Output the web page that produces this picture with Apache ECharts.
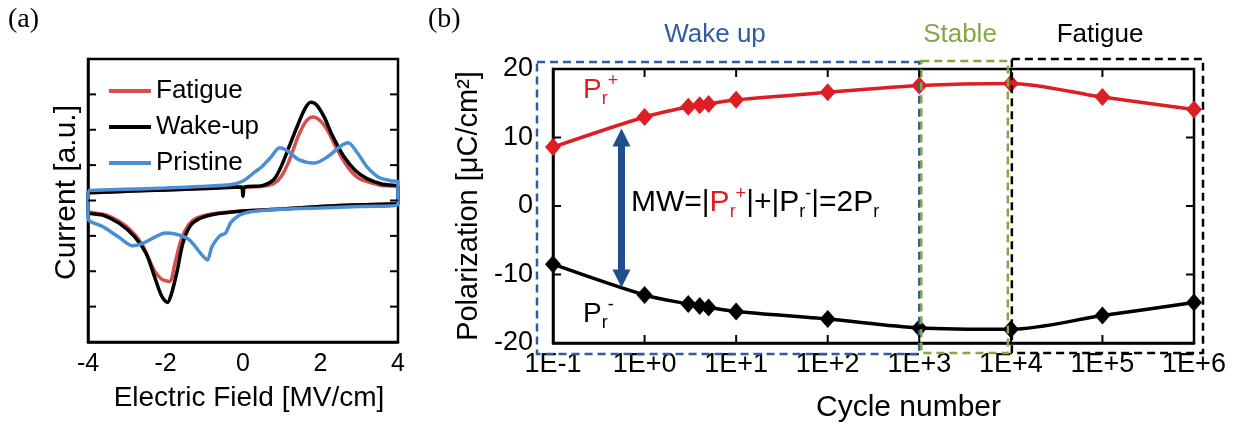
<!DOCTYPE html>
<html>
<head>
<meta charset="utf-8">
<script src="https://cdn.jsdelivr.net/npm/echarts@6.0.0/dist/echarts.min.js"></script>
<style>
    html, body { margin: 0; padding: 0; background: #fff; }
    #main { width: 1245px; height: 432px; }
</style>
</head>
<body>
<div id="main"></div>
<script>
// ---- panel (a): current loops, [field MV/cm, current a.u.] ----
const fatigueLoop = [
    [-4, 0.22], [-3, 0.26], [-2, 0.3], [-1, 0.34], [0, 0.38], [0.5, 0.4], [0.8, 0.48], [1.0, 0.7],
    [1.2, 1.15], [1.4, 1.75], [1.6, 2.2], [1.8, 2.36], [2.0, 2.25], [2.2, 1.95], [2.4, 1.5],
    [2.7, 0.95], [3.0, 0.62], [3.5, 0.44], [4, 0.35],
    [4, -0.07], [3, -0.12], [2, -0.17], [1, -0.24], [0, -0.3], [-0.8, -0.38], [-1.2, -0.5],
    [-1.4, -0.68], [-1.6, -1.12], [-1.75, -1.75], [-1.9, -2.29], [-2.1, -2.22], [-2.3, -1.96],
    [-2.6, -1.25], [-3.0, -0.74], [-3.5, -0.42], [-4, -0.27], [-4, 0.22]
];
const wakeUpLoop = [
    [-4, 0.22], [-3, 0.26], [-2, 0.3], [-1, 0.34], [-0.05, 0.38], [0, 0.12], [0.05, 0.38], [0.5, 0.42],
    [0.8, 0.6], [1.0, 1.0], [1.2, 1.55], [1.4, 2.1], [1.6, 2.6], [1.75, 2.78], [1.9, 2.7], [2.1, 2.35],
    [2.3, 1.85], [2.6, 1.25], [2.9, 0.85], [3.2, 0.62], [3.6, 0.46], [4, 0.38],
    [4, -0.07], [3, -0.12], [2, -0.17], [1, -0.24], [0, -0.3], [-0.8, -0.4], [-1.1, -0.5],
    [-1.35, -0.7], [-1.55, -1.2], [-1.7, -2.0], [-1.85, -2.65], [-1.95, -2.88], [-2.1, -2.7],
    [-2.3, -2.1], [-2.5, -1.5], [-2.8, -1.02], [-3.2, -0.64], [-3.6, -0.42], [-4, -0.32], [-4, 0.22]
];
const pristineLoop = [
    [-4, 0.28], [-3, 0.32], [-2, 0.35], [-1, 0.4], [-0.3, 0.45], [0, 0.55], [0.3, 0.8], [0.5, 0.97],
    [0.7, 1.2], [0.95, 1.49], [1.15, 1.4], [1.45, 1.15], [1.85, 1.06], [2.2, 1.25], [2.5, 1.52],
    [2.71, 1.63], [2.95, 1.35], [3.2, 0.95], [3.5, 0.66], [3.8, 0.56], [4, 0.52],
    [4, -0.13], [3, -0.17], [2, -0.21], [1, -0.25], [0.5, -0.28], [0, -0.37], [-0.3, -0.6],
    [-0.45, -0.92], [-0.6, -1.0], [-0.8, -1.3], [-0.92, -1.68], [-1.05, -1.55], [-1.4, -1.1],
    [-1.7, -0.96], [-2.0, -0.92], [-2.3, -1.05], [-2.6, -1.22], [-2.85, -1.28], [-3.2, -1.04],
    [-3.6, -0.75], [-4, -0.5], [-4, 0.28]
];
const fieldRange = [-4, 4];
const currentRange = [-4, 4];
const currentTicks = [-3, -2, -1, 0, 1, 2, 3];

// ---- panel (b): remanent polarization vs cycles ----
const cycles = [0.1, 1, 3, 4, 5, 10, 100, 1000, 10000, 100000, 1000000];
const prPlus = [8.6, 13.0, 14.5, 14.7, 14.9, 15.5, 16.6, 17.6, 17.9, 15.9, 14.1];
const prMinus = [-8.5, -13.0, -14.3, -14.6, -14.8, -15.4, -16.5, -17.8, -18.0, -16.0, -14.1];
const cycleRange = [0.1, 1000000];
const cycleTicks = [1, 10, 100, 1000, 10000, 100000];
const polRange = [-20, 20];
const polTicks = [-10, 0, 10];
const phaseEdges = [0.1, 1000, 10000, 1000000];
const phaseNames = ['Wake up', 'Stable', 'Fatigue'];
const mwArrow = { cycle: 0.56, low: -10.6, high: 10.0 };

const FONT = 'Liberation Sans, Arial, sans-serif';
const PHASE_COLORS = ['#2f5d9f', '#84a843', '#000'];
const TICK_LEN = 8;

const chart = echarts.init(document.getElementById('main'));

// axis lines sit exactly on the grid border
const boxLine = () => ({show: true, onZero: false, lineStyle: {color: '#000', width: 2.5}});
const logFmt = function (v) {
    let e = Math.round(Math.log10(v));
    return '1E' + (e < 0 ? '-' : '+') + Math.abs(e);
};

const option = {
    backgroundColor: '#fff',
    animation: false,
    grid: [
        {left: 88, top: 59, width: 310, height: 283, show: true, borderColor: '#000', borderWidth: 2.5},
        {left: 553, top: 69, width: 641, height: 274, show: true, borderColor: '#000', borderWidth: 2.5}
    ],
    legend: {
        data: ['Fatigue', 'Wake-up', 'Pristine'],
        orient: 'vertical',
        left: 104,
        top: 73,
        icon: 'rect',
        itemWidth: 42,
        itemHeight: 4,
        itemGap: 10,
        textStyle: {color: '#000', fontSize: 26, fontFamily: FONT}
    },
    xAxis: [
        {
            gridIndex: 0, type: 'value', min: fieldRange[0], max: fieldRange[1], interval: 2,
            axisLine: boxLine(), axisTick: {show: false}, splitLine: {show: false},
            axisLabel: {color: '#000', fontSize: 25, fontFamily: FONT, margin: 10},
            name: 'Electric Field [MV/cm]', nameLocation: 'middle', nameGap: 42,
            nameTextStyle: {color: '#000', fontSize: 28, fontFamily: FONT, padding: [0, 0, 0, 12]}
        },
        {
            gridIndex: 1, type: 'log', logBase: 10, min: cycleRange[0], max: cycleRange[1], splitNumber: 7,
            axisLine: boxLine(), axisTick: {show: false}, splitLine: {show: false}, minorTick: {show: false},
            axisLabel: {color: '#000', fontSize: 27, fontFamily: FONT, margin: 8, formatter: logFmt},
            name: 'Cycle number', nameLocation: 'middle', nameGap: 50,
            nameTextStyle: {color: '#000', fontSize: 30, fontFamily: FONT, padding: [0, 0, 0, 70]}
        }
    ],
    yAxis: [
        {
            gridIndex: 0, type: 'value', min: currentRange[0], max: currentRange[1], interval: 1,
            axisLine: boxLine(), axisTick: {show: false}, splitLine: {show: false}, axisLabel: {show: false},
            name: 'Current [a.u.]', nameLocation: 'middle', nameGap: 6,
            nameTextStyle: {color: '#000', fontSize: 30, fontFamily: FONT, padding: [0, 0, 0, 16]}
        },
        {
            gridIndex: 1, type: 'value', min: polRange[0], max: polRange[1], interval: 10,
            axisLine: boxLine(), axisTick: {show: false}, splitLine: {show: false},
            axisLabel: {color: '#000', fontSize: 27, fontFamily: FONT, margin: 20},
            name: 'Polarization [μC/cm²]', nameLocation: 'middle', nameGap: 57,
            nameTextStyle: {color: '#000', fontSize: 29, fontFamily: FONT}
        }
    ],
    series: [
        {
            name: 'Fatigue', type: 'line', xAxisIndex: 0, yAxisIndex: 0, data: fatigueLoop,
            symbol: 'none', smooth: 0.3, color: '#d6504b', lineStyle: {width: 3.5}
        },
        {
            name: 'Wake-up', type: 'line', xAxisIndex: 0, yAxisIndex: 0, data: wakeUpLoop,
            symbol: 'none', smooth: 0.3, color: '#000', lineStyle: {width: 3.5}
        },
        {
            name: 'Pristine', type: 'line', xAxisIndex: 0, yAxisIndex: 0, data: pristineLoop,
            symbol: 'none', smooth: 0.3, color: '#4a8fd5', lineStyle: {width: 3.5}
        },
        {
            name: 'Pr+', type: 'line', xAxisIndex: 1, yAxisIndex: 1, clip: false,
            data: cycles.map((c, i) => [c, prPlus[i]]),
            symbol: 'diamond', symbolSize: [16, 18], smooth: 0.3,
            color: '#dc1f24', lineStyle: {width: 3.5}
        },
        {
            name: 'Pr-', type: 'line', xAxisIndex: 1, yAxisIndex: 1, clip: false,
            data: cycles.map((c, i) => [c, prMinus[i]]),
            symbol: 'diamond', symbolSize: [16, 18], smooth: 0.3,
            color: '#000', lineStyle: {width: 3.5},
            markLine: {
                silent: true,
                symbol: ['triangle', 'triangle'],
                symbolSize: 18,
                label: {show: false},
                lineStyle: {color: '#1f4e8c', width: 7, type: 'solid'},
                data: [[{coord: [mwArrow.cycle, mwArrow.low]}, {coord: [mwArrow.cycle, mwArrow.high]}]]
            }
        }
    ]
};
chart.setOption(option);

const pa = (x, y) => chart.convertToPixel({xAxisIndex: 0, yAxisIndex: 0}, [x, y]);
const pb = (x, y) => chart.convertToPixel({xAxisIndex: 1, yAxisIndex: 1}, [x, y]);

const graphics = [];
const tick = (x1, y1, x2, y2) => graphics.push({
    type: 'line', z: 12, silent: true,
    shape: {x1: x1, y1: y1, x2: x2, y2: y2},
    style: {stroke: '#000', lineWidth: 2}
});

// inward ticks, panel (a): left and right frame edges
currentTicks.forEach(v => {
    const l = pa(fieldRange[0], v), r = pa(fieldRange[1], v);
    tick(l[0], l[1], l[0] + TICK_LEN, l[1]);
    tick(r[0], r[1], r[0] - TICK_LEN, r[1]);
});
// inward ticks, panel (b): all four frame edges
polTicks.forEach(v => {
    const l = pb(cycleRange[0], v), r = pb(cycleRange[1], v);
    tick(l[0], l[1], l[0] + TICK_LEN, l[1]);
    tick(r[0], r[1], r[0] - TICK_LEN, r[1]);
});
cycleTicks.forEach(c => {
    const b = pb(c, polRange[0]), t = pb(c, polRange[1]);
    tick(b[0], b[1], b[0], b[1] - TICK_LEN);
    tick(t[0], t[1], t[0], t[1] + TICK_LEN);
});

// dashed phase boxes and their titles
const top20 = pb(1, polRange[1])[1];
const bot20 = pb(1, polRange[0])[1];
const boxes = [
    {x0: pb(phaseEdges[0], 0)[0] - 16, x1: pb(phaseEdges[1], 0)[0], y0: top20 - 7, y1: bot20 + 11},
    {x0: pb(phaseEdges[1], 0)[0] + 2, x1: pb(phaseEdges[2], 0)[0] - 3, y0: top20 - 8, y1: bot20 + 10},
    {x0: pb(phaseEdges[2], 0)[0] + 1, x1: pb(phaseEdges[3], 0)[0] + 9, y0: top20 - 10, y1: bot20 + 10}
];
const titleX = [715, 960, 1100];

boxes.forEach((b, i) => {
    graphics.push({
        type: 'rect', z: 10, silent: true,
        shape: {x: b.x0, y: b.y0, width: b.x1 - b.x0, height: b.y1 - b.y0},
        style: {fill: 'none', stroke: PHASE_COLORS[i], lineWidth: 2.5, lineDash: [8, 5]}
    });
    graphics.push({
        type: 'text', z: 10, silent: true, x: titleX[i], y: 35,
        style: {
            text: phaseNames[i], fill: PHASE_COLORS[i], fontSize: 26, fontFamily: FONT,
            align: 'center', verticalAlign: 'middle'
        }
    });
});

const red = '#dc1f24';
const richP = (color, size) => ({
    [color === red ? 'rp' : 'p']: {fontSize: size, fontFamily: FONT, lineHeight: 36, fill: color},
    [color === red ? 'rsub' : 'sub']: {fontSize: 18, fontFamily: FONT, lineHeight: 18, verticalAlign: 'bottom', fill: color},
    [color === red ? 'rsup' : 'sup']: {fontSize: 18, fontFamily: FONT, lineHeight: 18, verticalAlign: 'top', fill: color}
});
graphics.push(
    {
        type: 'text', z: 10, silent: true, x: 8, y: 20,
        style: {text: '(a)', fill: '#000', fontSize: 28, fontFamily: 'Liberation Serif, serif', verticalAlign: 'middle'}
    },
    {
        type: 'text', z: 10, silent: true, x: 428, y: 20,
        style: {text: '(b)', fill: '#000', fontSize: 28, fontFamily: 'Liberation Serif, serif', verticalAlign: 'middle'}
    },
    {
        type: 'text', z: 10, silent: true, x: 583, y: 90,
        style: {text: '{rp|P}{rsub|r}{rsup|+}', fill: red, rich: richP(red, 28), verticalAlign: 'middle'}
    },
    {
        type: 'text', z: 10, silent: true, x: 583, y: 314,
        style: {text: '{p|P}{sub|r}{sup|-}', fill: '#000', rich: richP('#000', 28), verticalAlign: 'middle'}
    },
    {
        type: 'text', z: 10, silent: true, x: 631, y: 203,
        style: {
            text: '{p|MW=|}{rp|P}{rsub|r}{rsup|+}{p||+|P}{sub|r}{sup|-}{p||=2P}{sub|r}',
            fill: '#000', verticalAlign: 'middle',
            rich: Object.assign({}, richP(red, 30), richP('#000', 30))
        }
    }
);
chart.setOption({graphic: graphics});
</script>
</body>
</html>
